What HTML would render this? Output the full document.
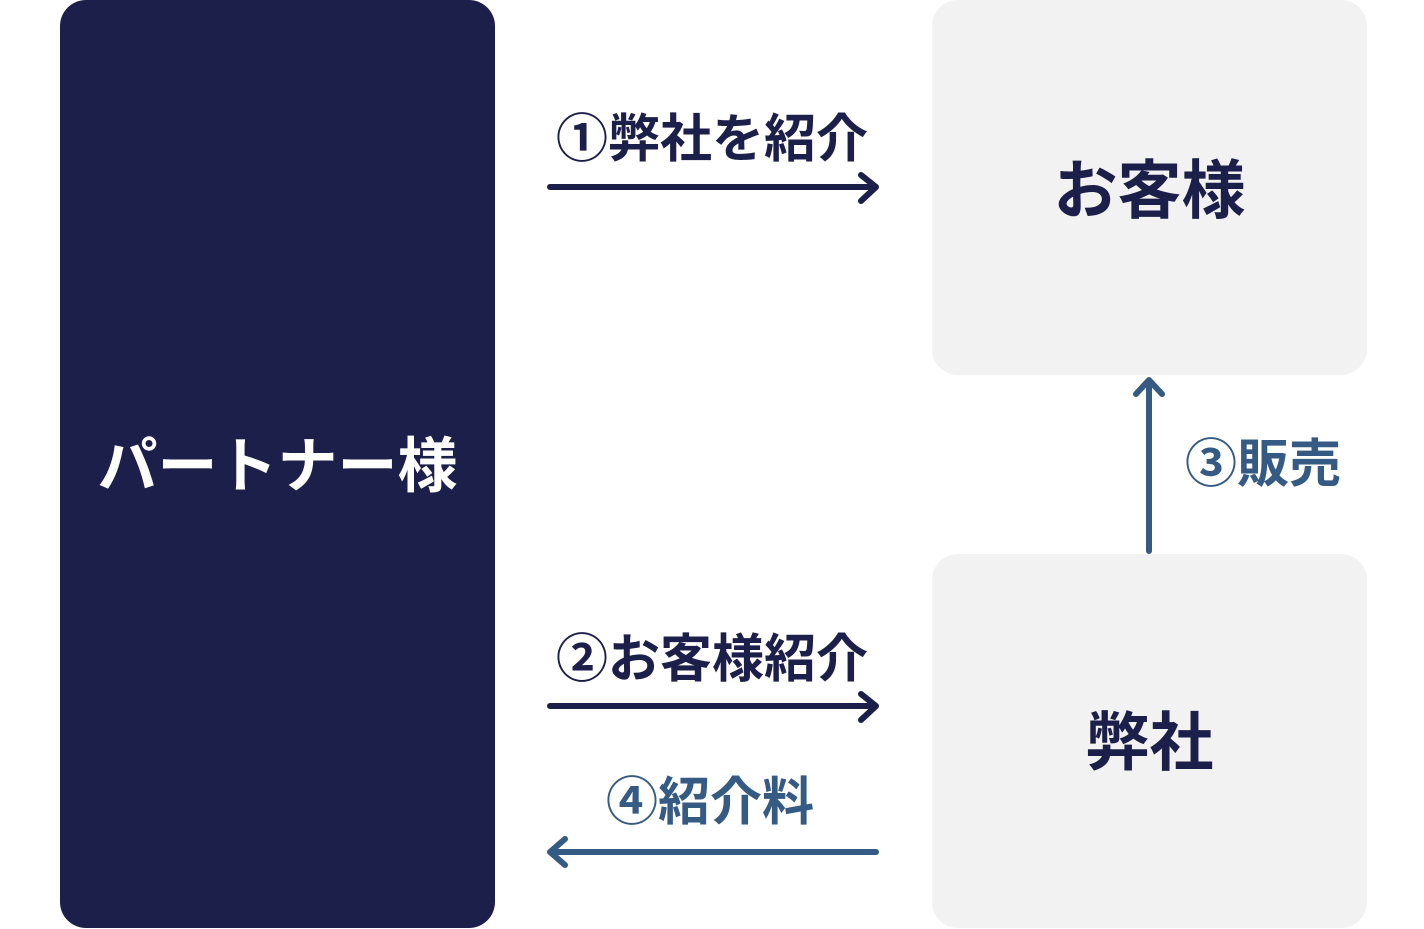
<!DOCTYPE html>
<html><head><meta charset="utf-8"><style>
body{margin:0;width:1424px;height:929px;background:#fff;position:relative;overflow:hidden;font-family:"Liberation Sans","Noto Sans CJK JP",sans-serif;font-weight:bold}
.b{position:absolute;border-radius:26px;display:flex;align-items:center;justify-content:center}
.t{position:absolute;white-space:nowrap;line-height:1}
</style></head><body>
<div class="b" style="left:60px;top:0;width:435px;height:928px;background:#1c1f4a;color:#fff;font-size:60px"><span style="position:relative;top:-3px">パートナー様</span></div>
<div class="b" style="left:932px;top:0;width:435px;height:375px;background:#f2f2f2;color:#1c1f4a;font-size:64px"><span style="position:relative;top:-2px">お客様</span></div>
<div class="b" style="left:932px;top:554px;width:435px;height:374px;background:#f2f2f2;color:#1c1f4a;font-size:64px"><span style="position:relative;top:-3px">弊社</span></div>
<div class="t" style="left:556px;top:114px;font-size:52px;color:#1c1f4a">①弊社を紹介</div>
<div class="t" style="left:556px;top:634px;font-size:52px;color:#1c1f4a">②お客様紹介</div>
<div class="t" style="left:606px;top:777px;font-size:52px;color:#355a83">④紹介料</div>
<div class="t" style="left:1185px;top:439px;font-size:52px;color:#355a83">③販売</div>
<svg width="1424" height="929" style="position:absolute;left:0;top:0" fill="none" stroke-width="6" stroke-linecap="round" stroke-linejoin="round">
<g stroke="#1c1f4a">
<path d="M550 187H876M861 175L876 187L861 201"/>
<path d="M550 706H876M861 694L876 706L861 720"/>
</g>
<g stroke="#355a83">
<path d="M550 852H876M565 839L550 852L565 865"/>
<path d="M1149 551V380M1136 394L1149 380L1162 394"/>
</g>
</svg>
</body></html>
